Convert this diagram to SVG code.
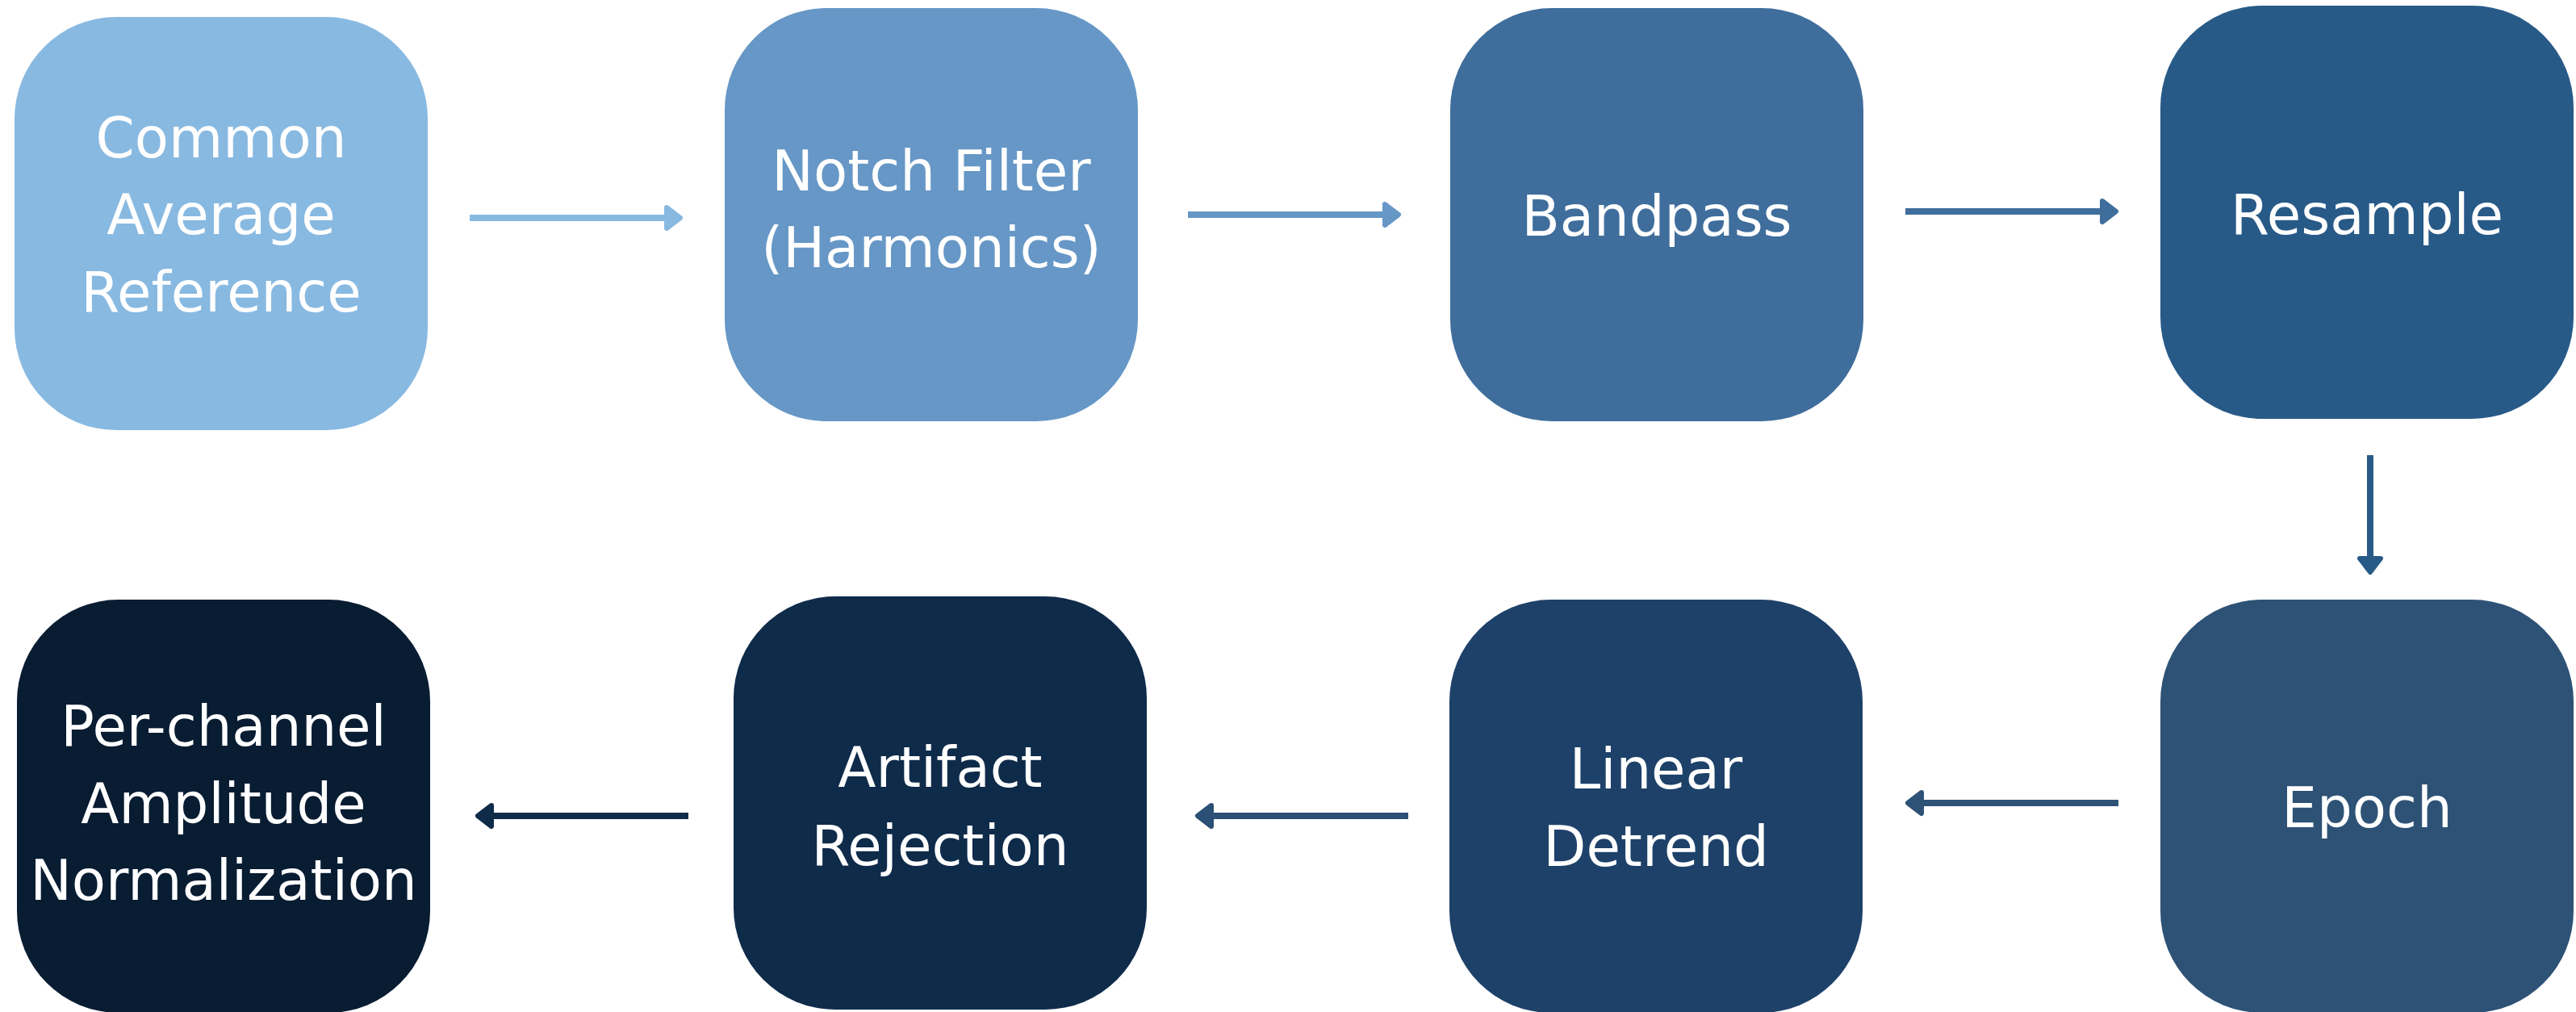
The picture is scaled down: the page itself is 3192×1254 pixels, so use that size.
<svg xmlns="http://www.w3.org/2000/svg" width="3192" height="1254" viewBox="0 0 3192 1254">
<style>
.box{stroke:none}
.lbl{font-family:"DejaVu Sans","Liberation Sans",sans-serif;font-size:69px;fill:#ffffff;text-anchor:middle}
.ln{stroke-width:8;fill:none}
.hd{stroke-width:6;stroke-linejoin:round}
</style>
<rect width="3192" height="1254" fill="#ffffff"/>
<g id="n1"><rect class="box" x="18" y="21" width="512" height="512" rx="126" fill="#88B9E1"/>
<text class="lbl" x="274" y="195">Common</text><text class="lbl" x="274" y="290">Average</text><text class="lbl" x="274" y="386">Reference</text></g>
<g id="n2"><rect class="box" x="898" y="10" width="512" height="512" rx="126" fill="#6697C6"/>
<text class="lbl" x="1154" y="236">Notch Filter</text><text class="lbl" x="1154" y="331">(Harmonics)</text></g>
<g id="n3"><rect class="box" x="1797" y="10" width="512" height="512" rx="126" fill="#3F6E9C"/>
<text class="lbl" x="2053" y="292">Bandpass</text></g>
<g id="n4"><rect class="box" x="2677" y="7" width="512" height="512" rx="126" fill="#285A88"/>
<text class="lbl" x="2933" y="290">Resample</text></g>
<g id="n5"><rect class="box" x="2677" y="743" width="512" height="512" rx="126" fill="#2D5276"/>
<text class="lbl" x="2933" y="1025">Epoch</text></g>
<g id="n6"><rect class="box" x="1796" y="743" width="512" height="512" rx="126" fill="#1E4169"/>
<text class="lbl" x="2052" y="977">Linear</text><text class="lbl" x="2052" y="1073">Detrend</text></g>
<g id="n7"><rect class="box" x="909" y="739" width="512" height="512" rx="126" fill="#0F2B4A"/>
<text class="lbl" x="1165" y="975">Artifact</text><text class="lbl" x="1165" y="1072">Rejection</text></g>
<g id="n8"><rect class="box" x="21" y="743" width="512" height="512" rx="126" fill="#081C32"/>
<text class="lbl" x="277" y="924">Per-channel</text><text class="lbl" x="277" y="1020">Amplitude</text><text class="lbl" x="277" y="1115">Normalization</text></g>
<g id="connectors">
<line class="ln" x1="582" y1="270" x2="826" y2="270" stroke="#88B9E1"/>
<path class="hd" d="M826 257 L843 270 L826 283 Z" fill="#88B9E1" stroke="#88B9E1"/>
<line class="ln" x1="1472" y1="266" x2="1716" y2="266" stroke="#6697C6"/>
<path class="hd" d="M1716 253 L1733 266 L1716 279 Z" fill="#6697C6" stroke="#6697C6"/>
<line class="ln" x1="2361" y1="262" x2="2605" y2="262" stroke="#3F6E9C"/>
<path class="hd" d="M2605 249 L2622 262 L2605 275 Z" fill="#3F6E9C" stroke="#3F6E9C"/>
<line class="ln" x1="2937" y1="564" x2="2937" y2="692" stroke="#285A88"/>
<path class="hd" d="M2924 692 L2937 709 L2950 692 Z" fill="#285A88" stroke="#285A88"/>
<line class="ln" x1="2625" y1="995" x2="2381" y2="995" stroke="#2D5276"/>
<path class="hd" d="M2381 982 L2364 995 L2381 1008 Z" fill="#2D5276" stroke="#2D5276"/>
<line class="ln" x1="1745" y1="1011" x2="1501" y2="1011" stroke="#2B4F75"/>
<path class="hd" d="M1501 998 L1484 1011 L1501 1024 Z" fill="#2B4F75" stroke="#2B4F75"/>
<line class="ln" x1="853" y1="1011" x2="609" y2="1011" stroke="#0F2B4A"/>
<path class="hd" d="M609 998 L592 1011 L609 1024 Z" fill="#0F2B4A" stroke="#0F2B4A"/>
</g>
</svg>
